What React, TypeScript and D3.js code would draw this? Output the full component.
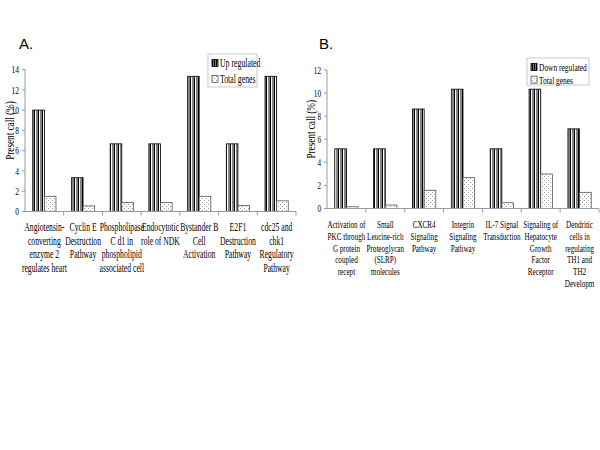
import React from "react";
import * as d3 from "d3";

const catsA: string[][] = [
  ["Angiotensin-", "converting", "enzyme 2", "regulates heart"],
  ["Cyclin E", "Destruction", "Pathway"],
  ["Phospholipase", "C d1 in", "phospholipid", "associated cell"],
  ["Endocytotic", "role of NDK"],
  ["Bystander B", "Cell", "Activation"],
  ["E2F1", "Destruction", "Pathway"],
  ["cdc25 and", "chk1", "Regulatory", "Pathway"],
];
const upA = [10, 3.33, 6.67, 6.67, 13.33, 6.67, 13.33];
const totalA = [1.5, 0.55, 0.9, 0.9, 1.5, 0.6, 1.05];
const ticksA = [0, 2, 4, 6, 8, 10, 12, 14];

const catsB: string[][] = [
  ["Activation of", "PKC through", "G protein", "coupled", "recept"],
  ["Small", "Leucine-rich", "Proteoglycan", "(SLRP)", "molecules"],
  ["CXCR4", "Signaling", "Pathway"],
  ["Integrin", "Signaling", "Pathway"],
  ["IL-7 Signal", "Transduction"],
  ["Signaling of", "Hepatocyte", "Growth", "Factor", "Receptor"],
  ["Dendritic", "cells in", "regulating", "TH1 and", "TH2", "Developm"],
];
const downB = [5.17, 5.17, 8.62, 10.34, 5.17, 10.34, 6.9];
const totalB = [0.15, 0.3, 1.58, 2.67, 0.5, 2.99, 1.4];
const ticksB = [0, 2, 4, 6, 8, 10, 12];

const serif = "'Liberation Serif', 'Times New Roman', serif";
const sans = "'Liberation Sans', Arial, sans-serif";

type TProps = {
  x: number;
  y: number;
  anchor?: "start" | "middle" | "end";
  fs: number;
  sx?: number;
  rotate?: number;
  lines: string[];
  lineH?: number;
};

function CText({ x, y, anchor = "start", fs, sx = 0.68, rotate = 0, lines, lineH = 0 }: TProps) {
  return (
    <text
      transform={`translate(${x},${y}) rotate(${rotate}) scale(${sx},1)`}
      textAnchor={anchor}
      fontFamily={serif}
      fontSize={fs}
      fill="#000"
    >
      {lines.length === 1
        ? lines[0]
        : lines.map((l, j) => (
            <tspan key={j} x={0} dy={j === 0 ? 0 : lineH}>
              {l}
            </tspan>
          ))}
    </text>
  );
}

type PanelProps = {
  title: string;
  cats: string[][];
  s1: number[];
  s2: number[];
  s1Name: string;
  ticks: number[];
  yMax: number;
  x0: number;
  x1: number;
  y0: number;
  y1: number;
  lineH: number;
  fs: number;
  catFs: number;
  catSx: number;
  titleX: number;
  labelX: number;
  legend: { x: number; y: number; w: number; h: number; gap: number };
};

function Panel(p: PanelProps) {
  const x = d3
    .scaleBand<number>()
    .domain(p.cats.map((_, i) => i))
    .range([p.x0, p.x1])
    .paddingInner(0)
    .paddingOuter(0);
  const inner = d3
    .scaleBand<number>()
    .domain([0, 1])
    .range([x.bandwidth() * 0.2, x.bandwidth() * 0.8]);
  const y = d3.scaleLinear().domain([0, p.yMax]).range([p.y0, p.y1]);
  const bw = inner.bandwidth();
  const axisColor = "#9a9a9a";
  return (
    <g>
      <text x={p.titleX} y={49} fontFamily={sans} fontSize={15} fill="#000">
        {p.title}
      </text>
      <CText
        x={p.labelX}
        y={(p.y0 + p.y1) / 2 - 10}
        anchor="middle"
        fs={13.5}
        sx={0.68}
        rotate={-90}
        lines={["Present call (%)"]}
      />
      {/* y axis */}
      <line x1={p.x0} x2={p.x0} y1={p.y0} y2={p.y1} stroke={axisColor} />
      {p.ticks.map((t) => (
        <g key={t}>
          <line x1={p.x0 - 3} x2={p.x0} y1={y(t)} y2={y(t)} stroke={axisColor} />
          <CText x={p.x0 - 6} y={y(t) + 3.8} anchor="end" fs={p.fs} lines={[String(t)]} />
        </g>
      ))}
      {/* bars */}
      {p.cats.map((_, i) => (
        <g key={i}>
          <rect
            x={(x(i) as number) + (inner(0) as number)}
            y={y(p.s1[i])}
            width={bw}
            height={p.y0 - y(p.s1[i])}
            fill="url(#stripes)"
            stroke="#000"
            strokeWidth={0.8}
          />
          <rect
            x={(x(i) as number) + (inner(1) as number)}
            y={y(p.s2[i])}
            width={bw}
            height={p.y0 - y(p.s2[i])}
            fill="url(#dots)"
            stroke="#555"
            strokeWidth={0.8}
          />
        </g>
      ))}
      {/* x axis */}
      <line x1={p.x0} x2={p.x1} y1={p.y0} y2={p.y0} stroke={axisColor} />
      {p.cats.map((_, i) => (
        <line
          key={i}
          x1={(x(i) as number) + x.bandwidth()}
          x2={(x(i) as number) + x.bandwidth()}
          y1={p.y0}
          y2={p.y0 + 4}
          stroke={axisColor}
        />
      ))}
      {p.cats.map((lines, i) => (
        <CText
          key={i}
          x={(x(i) as number) + x.bandwidth() / 2}
          y={p.y0 + 19.5}
          anchor="middle"
          fs={p.catFs}
          sx={p.catSx}
          lines={lines}
          lineH={p.lineH / 1}
        />
      ))}
      {/* legend */}
      <rect
        x={p.legend.x}
        y={p.legend.y}
        width={p.legend.w}
        height={p.legend.h}
        fill="#fff"
        stroke="#bbb"
        strokeWidth={0.8}
      />
      {[p.s1Name, "Total genes"].map((name, k) => {
        const cy = p.legend.y + 9 + k * p.legend.gap;
        return (
          <g key={k}>
            <rect
              x={p.legend.x + 4}
              y={cy - 3.5}
              width={6}
              height={7}
              fill={k === 0 ? "url(#stripesSmall)" : "url(#dots)"}
              stroke={k === 0 ? "#000" : "#555"}
              strokeWidth={0.8}
            />
            <CText x={p.legend.x + 12} y={cy + 3.8} fs={p.fs + 0.8} sx={0.66} lines={[name]} />
          </g>
        );
      })}
    </g>
  );
}

export default function App() {
  return (
    <svg
      width={600}
      height={450}
      style={{ position: "absolute", left: 0, top: 0, background: "#fff" }}
    >
      <defs>
        <pattern id="stripes" width={4} height={4} patternUnits="userSpaceOnUse">
          <rect x={0} y={0} width={2} height={4} fill="#858585" />
          <rect x={2} y={0} width={1} height={4} fill="#000" />
          <rect x={3} y={0} width={1} height={4} fill="#fff" />
        </pattern>
        <pattern id="stripesSmall" width={2} height={2} patternUnits="userSpaceOnUse">
          <rect x={0} y={0} width={1} height={2} fill="#000" />
          <rect x={1} y={0} width={1} height={2} fill="#777" />
        </pattern>
        <pattern id="dots" width={4} height={4} patternUnits="userSpaceOnUse">
          <rect x={0} y={0} width={4} height={4} fill="#fff" />
          <rect x={0} y={0} width={1} height={1} fill="#999" />
          <rect x={2} y={2} width={1} height={1} fill="#999" />
        </pattern>
      </defs>
      <Panel
        title="A."
        cats={catsA}
        s1={upA}
        s2={totalA}
        s1Name="Up regulated"
        ticks={ticksA}
        yMax={14}
        x0={25}
        x1={296}
        y0={211.5}
        y1={69.5}
        lineH={13.7}
        fs={11}
        catFs={12}
        catSx={0.64}
        titleX={19}
        labelX={14}
        legend={{ x: 208, y: 54, w: 49, h: 33, gap: 16 }}
      />
      <Panel
        title="B."
        cats={catsB}
        s1={downB}
        s2={totalB}
        s1Name="Down regulated"
        ticks={ticksB}
        yMax={12}
        x0={327}
        x1={599}
        y0={208.5}
        y1={70}
        lineH={11.8}
        fs={10.5}
        catFs={10.8}
        catSx={0.66}
        titleX={319}
        labelX={315}
        legend={{ x: 527, y: 58, w: 62, h: 27, gap: 12.7 }}
      />
    </svg>
  );
}
